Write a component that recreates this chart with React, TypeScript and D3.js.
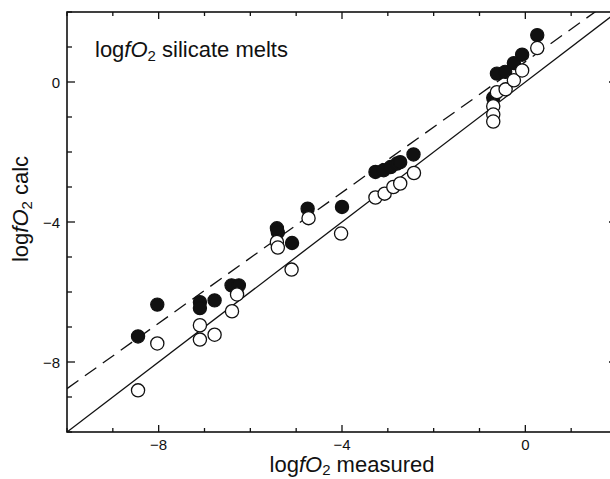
import * as d3 from "d3";

const W = 610;
const H = 479;
const LEFT = 67;
const TOP = 12;
const RIGHT = 617;
const BOTTOM = 432;

// measured, calc -- filled symbols
const filledMeasured = [
  -8.45, -8.03, -7.1, -7.1, -6.78, -6.41, -6.25, -5.42, -5.4, -5.09, -4.75, -4.0,
  -3.27, -3.09, -2.94, -2.8, -2.73, -2.44, -0.7, -0.62, -0.44, -0.25, -0.07, 0.26,
];
const filledCalc = [
  -7.27, -6.36, -6.29, -6.46, -6.24, -5.81, -5.81, -4.18, -4.3, -4.6, -3.62, -3.57,
  -2.57, -2.52, -2.43, -2.33, -2.29, -2.07, -0.45, 0.24, 0.29, 0.54, 0.78, 1.34,
];

// measured, calc -- open symbols
const openMeasured = [
  -8.45, -8.03, -7.1, -7.1, -6.78, -6.4, -6.29, -5.42, -5.4, -5.1, -4.73, -4.02,
  -3.27, -3.07, -2.88, -2.73, -2.43, -0.7, -0.7, -0.7, -0.62, -0.43, -0.25, -0.07, 0.26,
];
const openCalc = [
  -8.81, -7.47, -6.95, -7.36, -7.22, -6.55, -6.07, -4.57, -4.73, -5.36, -3.89, -4.33,
  -3.3, -3.19, -3.0, -2.9, -2.6, -0.69, -0.93, -1.13, -0.29, -0.21, 0.05, 0.33, 0.97,
];

const majorTicks = [-8, -4, 0];
const tickLabels = ["\u22128", "\u22124", "0"];
const minorTicks = d3.range(-10, 3, 1);

// dashed fit line
const fitSlope = 0.934;
const fitIntercept = 0.58;

const FONT = "'Liberation Sans', Arial, Helvetica, sans-serif";

export default function App() {
  const x = d3.scaleLinear().domain([-10, 2]).range([LEFT, RIGHT]);
  const y = d3.scaleLinear().domain([-10, 2]).range([BOTTOM, TOP]);

  const line = d3
    .line<[number, number]>()
    .x((d) => x(d[0]))
    .y((d) => y(d[1]));

  const oneToOne: [number, number][] = [
    [-10, -10],
    [2, 2],
  ];
  const fit: [number, number][] = [-10, 2].map((v) => [v, fitSlope * v + fitIntercept]);

  const R = 6.6;

  return (
    <svg
      width={W}
      height={H}
      style={{ position: "absolute", left: 0, top: 0, background: "white" }}
      fontFamily={FONT}
    >
      <defs>
        <clipPath id="plot">
          <rect x={LEFT} y={TOP} width={RIGHT - LEFT} height={BOTTOM - TOP} />
        </clipPath>
      </defs>

      <g clipPath="url(#plot)">
        <path d={line(oneToOne) ?? ""} stroke="#111" strokeWidth={1.3} fill="none" />
        <path
          d={line(fit) ?? ""}
          stroke="#111"
          strokeWidth={1.3}
          fill="none"
          strokeDasharray="14,8"
        />
      </g>

      {filledMeasured.map((m, i) => (
        <circle key={"f" + i} cx={x(m)} cy={y(filledCalc[i])} r={R} fill="#111" stroke="#111" strokeWidth={1.2} />
      ))}
      {openMeasured.map((m, i) => (
        <circle key={"o" + i} cx={x(m)} cy={y(openCalc[i])} r={R} fill="white" stroke="#111" strokeWidth={1.3} />
      ))}

      {/* frame */}
      <rect
        x={LEFT}
        y={TOP}
        width={RIGHT - LEFT}
        height={BOTTOM - TOP}
        fill="none"
        stroke="#111"
        strokeWidth={1.6}
      />

      {/* ticks */}
      {minorTicks.map((t) => {
        const major = majorTicks.includes(t);
        const lx = major ? 7 : 4;
        const ly = major ? 8 : 5;
        return (
          <g key={"t" + t} stroke="#111" strokeWidth={1.3}>
            <line x1={x(t)} x2={x(t)} y1={BOTTOM} y2={BOTTOM - lx} />
            <line x1={x(t)} x2={x(t)} y1={TOP} y2={TOP + lx} />
            <line x1={LEFT} x2={LEFT + ly} y1={y(t)} y2={y(t)} />
            <line x1={RIGHT} x2={RIGHT - ly} y1={y(t)} y2={y(t)} />
          </g>
        );
      })}

      {majorTicks.map((t, i) => (
        <g key={"l" + t} fontSize={15} fill="#111">
          <text x={x(t)} y={450} textAnchor="middle">
            {tickLabels[i]}
          </text>
          <text x={60} y={y(t)} textAnchor="end" dominantBaseline="central">
            {tickLabels[i]}
          </text>
        </g>
      ))}

      {/* title */}
      <text x={95} y={57} fontSize={22} fill="#111">
        log<tspan fontStyle="italic">fO</tspan>
        <tspan fontSize={15} dy={4}>2</tspan>
        <tspan dy={-4}> silicate melts</tspan>
      </text>

      {/* x label */}
      <text x={352} y={472} fontSize={22} fill="#111" textAnchor="middle">
        log<tspan fontStyle="italic">fO</tspan>
        <tspan fontSize={15} dy={3}>2</tspan>
        <tspan dy={-3}> measured</tspan>
      </text>

      {/* y label */}
      <text
        transform="translate(28,209) rotate(-90)"
        fontSize={22}
        fill="#111"
        textAnchor="middle"
      >
        log<tspan fontStyle="italic">fO</tspan>
        <tspan fontSize={15} dy={4}>2</tspan>
        <tspan dy={-4}> calc</tspan>
      </text>
    </svg>
  );
}
